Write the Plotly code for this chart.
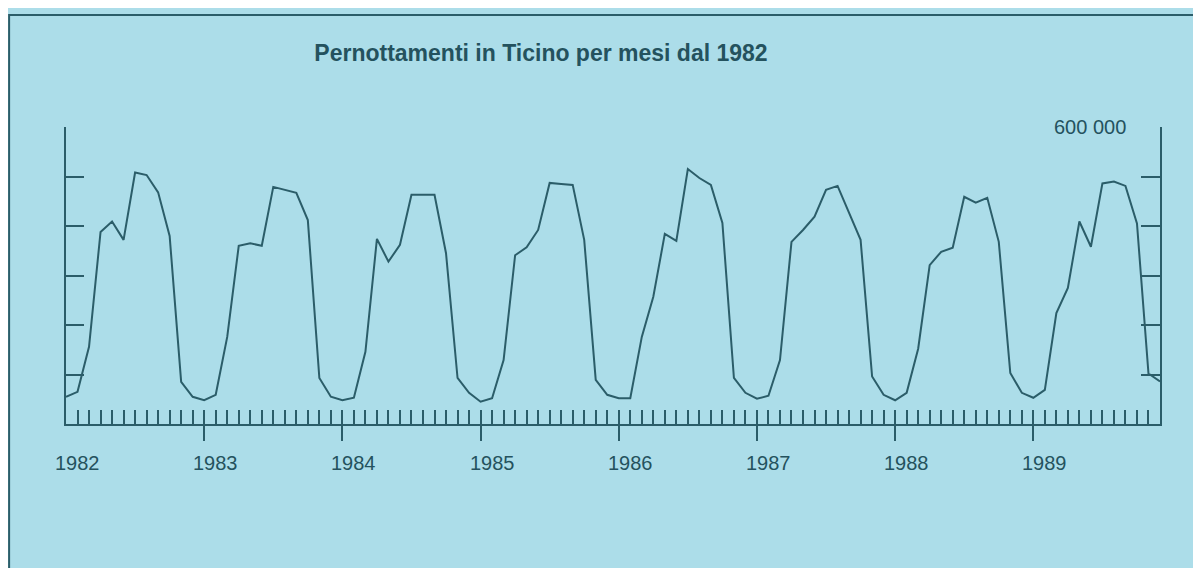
import plotly.graph_objects as go

# ── Colours ────────────────────────────────────────────────────────────────────
BG = "#ACDDE9"
INK = "#2B5D69"
TEXT = "#24525E"

# ── Data: monthly overnight stays in Ticino, Jan 1982 .. Dec 1989 ─────────────
MONTHS = list(range(96))  # month index, 0 = Jan 1982
STAYS_1982 = [55, 65, 156, 388, 409, 372, 508, 503, 468, 380, 85, 55]
STAYS_1983 = [48, 59, 176, 360, 365, 360, 479, 473, 467, 412, 93, 55]
STAYS_1984 = [48, 53, 146, 374, 328, 362, 463, 463, 463, 345, 93, 63]
STAYS_1985 = [45, 52, 129, 341, 357, 392, 487, 485, 483, 372, 89, 59]
STAYS_1986 = [52, 52, 176, 257, 384, 370, 515, 497, 483, 406, 93, 63]
STAYS_1987 = [51, 57, 129, 368, 392, 419, 473, 481, 425, 372, 96, 59]
STAYS_1988 = [48, 63, 152, 321, 348, 356, 459, 447, 457, 368, 103, 63]
STAYS_1989 = [53, 69, 224, 275, 409, 358, 486, 490, 481, 405, 102, 86]

stays = [v * 1000 for v in (STAYS_1982 + STAYS_1983 + STAYS_1984 + STAYS_1985
                            + STAYS_1986 + STAYS_1987 + STAYS_1988 + STAYS_1989)]

YEAR_TICKS = [12, 24, 36, 48, 60, 72, 84]
YEAR_LABEL_POS = [0, 12, 24, 36, 48, 60, 72, 84]
YEAR_LABELS = ["1982", "1983", "1984", "1985", "1986", "1987", "1988", "1989"]
Y_TICKS = [100000, 200000, 300000, 400000, 500000, 600000]
Y_RANGE = [0, 600000]
TITLE = "Pernottamenti in Ticino per mesi dal 1982"

LABEL_FONT = dict(family="Liberation Sans, Arial", size=20, color=TEXT)

fig = go.Figure()
fig.add_trace(go.Scatter(
    x=MONTHS, y=stays, mode="lines",
    line=dict(color=INK, width=2), showlegend=False, hoverinfo="skip",
))
# invisible copy so the overlay axes (year ticks, right axis) get drawn
fig.add_trace(go.Scatter(
    x=MONTHS, y=stays, mode="lines", xaxis="x2", yaxis="y2",
    line=dict(color="rgba(0,0,0,0)", width=0), showlegend=False, hoverinfo="skip",
))

axis_common = dict(showgrid=False, zeroline=False, showticklabels=False,
                   tickcolor=INK, tickwidth=2, linecolor=INK, linewidth=2)

# the page body adds an 8px offset, margins compensate for it
fig.update_layout(
    width=1201, height=568,
    paper_bgcolor=BG, plot_bgcolor=BG,
    margin=dict(l=58, r=49, t=119, b=152),
    title=dict(text=TITLE, x=0.4438, y=0.921, xanchor="center", yanchor="middle",
               font=dict(family="Liberation Sans, Arial", size=23, color=TEXT, weight="bold")),
    xaxis=dict(range=[0, 95], showline=True, ticks="inside", ticklen=14,
               tickmode="linear", tick0=0, dtick=1, **axis_common),
    xaxis2=dict(range=[0, 95], overlaying="x", anchor="y", side="bottom",
                showline=False, ticks="outside", ticklen=16,
                tickmode="array", tickvals=YEAR_TICKS, **axis_common),
    yaxis=dict(range=Y_RANGE, showline=True, ticks="inside", ticklen=18,
               tickmode="array", tickvals=Y_TICKS, **axis_common),
    yaxis2=dict(range=Y_RANGE, overlaying="y", anchor="x", side="right",
                showline=True, ticks="inside", ticklen=19,
                tickmode="array", tickvals=Y_TICKS, **axis_common),
)

# year labels, a little to the right of each January tick
for pos, lab in zip(YEAR_LABEL_POS, YEAR_LABELS):
    fig.add_annotation(x=pos + 1, y=0, xref="x", yref="y", text=lab,
                       showarrow=False, yanchor="middle", yshift=-39,
                       font=LABEL_FONT)

# top value on the right axis
fig.add_annotation(x=1, y=Y_TICKS[-1], xref="paper", yref="y2",
                   text=f"{Y_TICKS[-1]:,}".replace(",", " "),
                   showarrow=False, xanchor="right", xshift=-32, yanchor="middle",
                   font=LABEL_FONT)

# outer frame (runs off the right and bottom edges)
fig.add_shape(type="rect", xref="paper", yref="paper",
              x0=-0.052, x1=1.2, y0=-0.7, y1=1.377,
              line=dict(color=INK, width=2), layer="below")

fig.write_html("out.html")
